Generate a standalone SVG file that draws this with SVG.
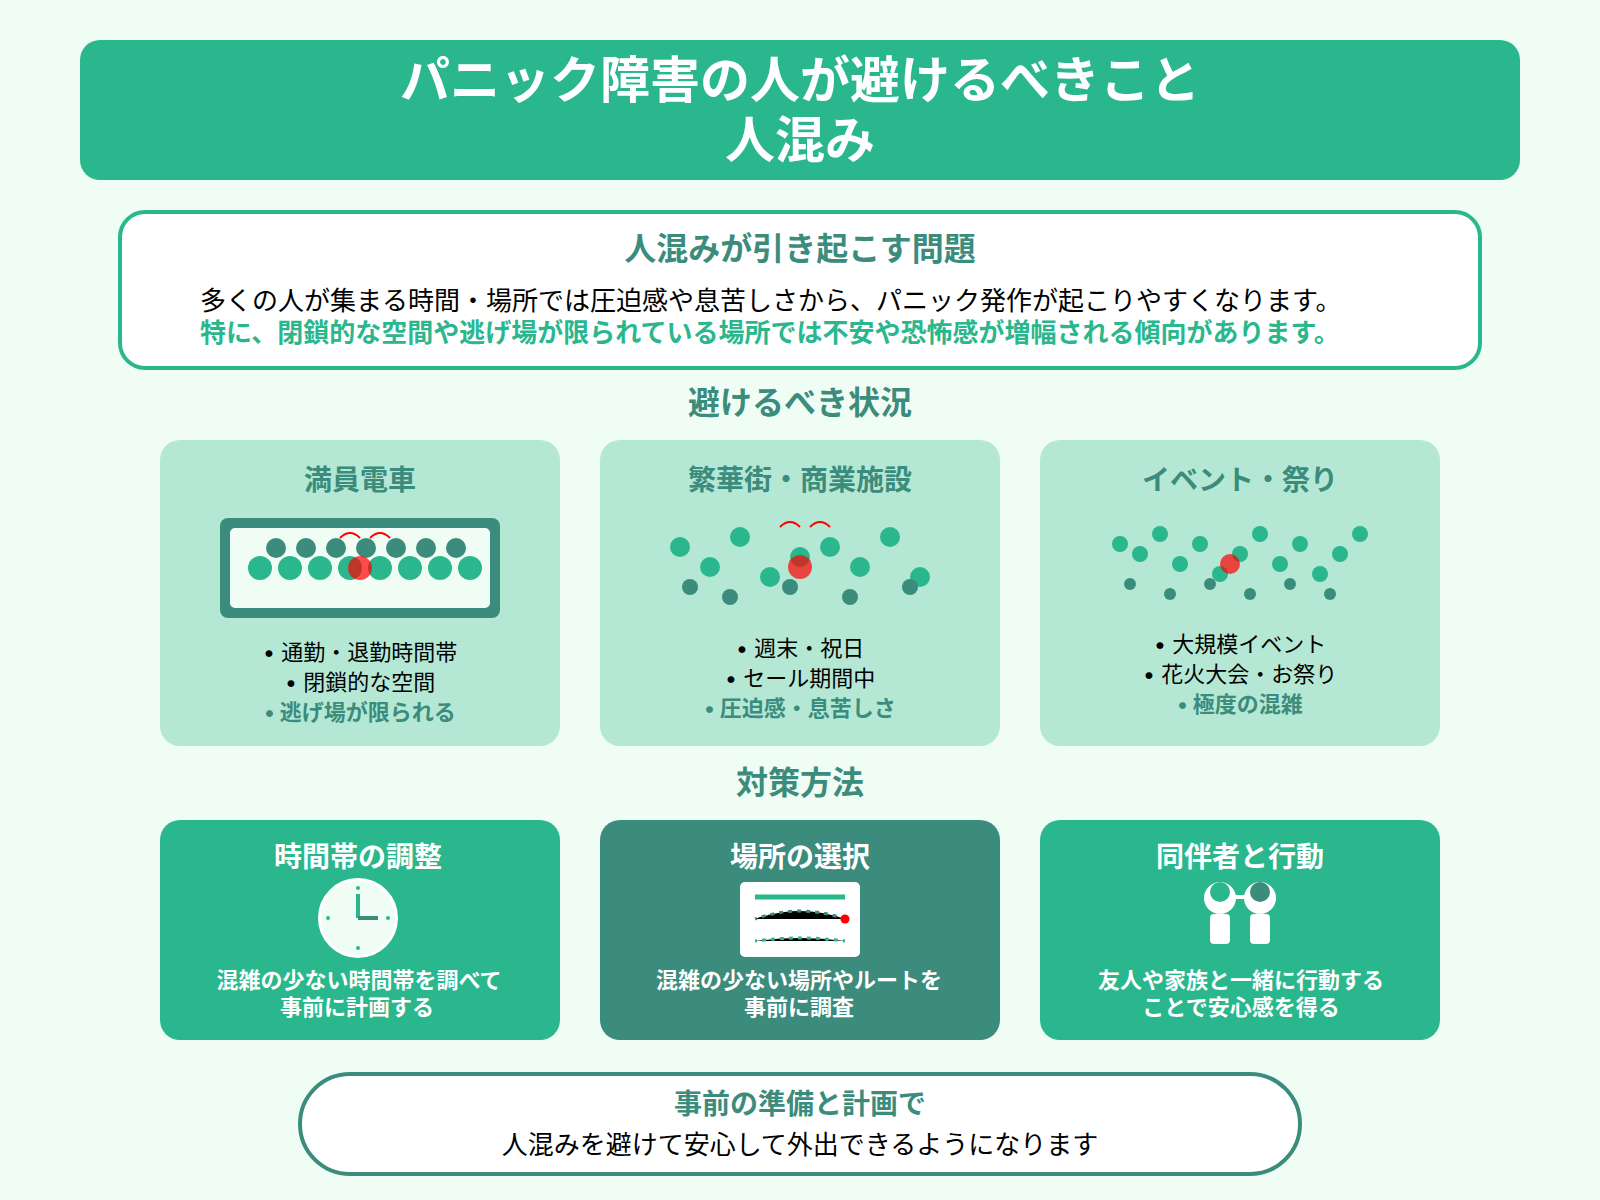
<svg xmlns="http://www.w3.org/2000/svg" width="1600" height="1200" viewBox="0 0 1600 1200">
<style>
text{font-family:Inter,"Noto Sans CJK JP","Noto Sans",sans-serif;text-anchor:middle}
.b{font-weight:700}
.t{font-size:50px;fill:#fff;font-weight:700}
.h{font-size:32px;fill:#3B8C7C;font-weight:700}
.ct{font-size:28px;fill:#3B8C7C;font-weight:700}
.li{font-size:22px;fill:#000}
.lb{font-size:22px;fill:#3B8C7C;font-weight:700}
.at{font-size:28px;fill:#fff;font-weight:700}
.ad{font-size:22px;fill:#fff;font-weight:700}
.body{font-size:26px;text-anchor:start}
.card{fill:#B4E8D5}
.g{fill:#2BB78D}
.d{fill:#3B8C7C}
.r{fill:#FF0000;opacity:.7}
.arc{fill:none;stroke:#FF0000;stroke-width:2}
</style>
<rect width="1600" height="1200" fill="#F0FDF4"/>
<g id="header">
<rect x="80" y="40" width="1440" height="140" rx="20" class="g"/>
<text x="800" y="98" class="t">パニック障害の人が避けるべきこと</text>
<text x="800" y="158" class="t">人混み</text>
</g>
<g id="problem">
<rect x="120" y="212" width="1360" height="156" rx="25" fill="#fff" stroke="#2BB78D" stroke-width="4"/>
<text x="800" y="260" class="h">人混みが引き起こす問題</text>
<text x="200" y="310" class="body" fill="#000">多くの人が集まる時間・場所では圧迫感や息苦しさから、パニック発作が起こりやすくなります。</text>
<text x="200" y="342" class="body b" fill="#2BB78D">特に、閉鎖的な空間や逃げ場が限られている場所では不安や恐怖感が増幅される傾向があります。</text>
</g>
<text id="avoid-heading" x="800" y="414" class="h">避けるべき状況</text>
<g id="card-train">
<rect x="160" y="440" width="400" height="306" rx="20" class="card"/>
<text x="360" y="490" class="ct">満員電車</text>
<rect x="220" y="518" width="280" height="100" rx="8" fill="#3B8C7C"/>
<rect x="230" y="528" width="260" height="80" rx="5" fill="#F0FDF4"/>
<g class="d"><circle cx="276" cy="548" r="10"/><circle cx="306" cy="548" r="10"/><circle cx="336" cy="548" r="10"/><circle cx="366" cy="548" r="10"/><circle cx="396" cy="548" r="10"/><circle cx="426" cy="548" r="10"/><circle cx="456" cy="548" r="10"/></g>
<g class="g"><circle cx="260" cy="568" r="12"/><circle cx="290" cy="568" r="12"/><circle cx="320" cy="568" r="12"/><circle cx="350" cy="568" r="12"/><circle cx="380" cy="568" r="12"/><circle cx="410" cy="568" r="12"/><circle cx="440" cy="568" r="12"/><circle cx="470" cy="568" r="12"/></g>
<circle cx="360" cy="568" r="12" class="r"/>
<path class="arc" d="M340 538Q350 528 360 538M370 538Q380 528 390 538"/>
<text x="360" y="660" class="li">• 通勤・退勤時間帯</text>
<text x="360" y="690" class="li">• 閉鎖的な空間</text>
<text x="360" y="720" class="lb">• 逃げ場が限られる</text>
</g>
<g id="card-town">
<rect x="600" y="440" width="400" height="306" rx="20" class="card"/>
<text x="800" y="490" class="ct">繁華街・商業施設</text>
<g class="g"><circle cx="680" cy="547" r="10"/><circle cx="710" cy="567" r="10"/><circle cx="740" cy="537" r="10"/><circle cx="770" cy="577" r="10"/><circle cx="800" cy="557" r="10"/><circle cx="830" cy="547" r="10"/><circle cx="860" cy="567" r="10"/><circle cx="890" cy="537" r="10"/><circle cx="920" cy="577" r="10"/></g>
<g class="d"><circle cx="690" cy="587" r="8"/><circle cx="730" cy="597" r="8"/><circle cx="790" cy="587" r="8"/><circle cx="850" cy="597" r="8"/><circle cx="910" cy="587" r="8"/></g>
<circle cx="800" cy="567" r="12" class="r"/>
<path class="arc" d="M780 527Q790 517 800 527M810 527Q820 517 830 527"/>
<text x="800" y="656" class="li">• 週末・祝日</text>
<text x="800" y="686" class="li">• セール期間中</text>
<text x="800" y="715.5" class="lb">• 圧迫感・息苦しさ</text>
</g>
<g id="card-event">
<rect x="1040" y="440" width="400" height="306" rx="20" class="card"/>
<text x="1240" y="490" class="ct">イベント・祭り</text>
<g class="g"><circle cx="1120" cy="544" r="8"/><circle cx="1140" cy="554" r="8"/><circle cx="1160" cy="534" r="8"/><circle cx="1180" cy="564" r="8"/><circle cx="1200" cy="544" r="8"/><circle cx="1220" cy="574" r="8"/><circle cx="1240" cy="554" r="8"/><circle cx="1260" cy="534" r="8"/><circle cx="1280" cy="564" r="8"/><circle cx="1300" cy="544" r="8"/><circle cx="1320" cy="574" r="8"/><circle cx="1340" cy="554" r="8"/><circle cx="1360" cy="534" r="8"/></g>
<g class="d"><circle cx="1130" cy="584" r="6"/><circle cx="1170" cy="594" r="6"/><circle cx="1210" cy="584" r="6"/><circle cx="1250" cy="594" r="6"/><circle cx="1290" cy="584" r="6"/><circle cx="1330" cy="594" r="6"/></g>
<circle cx="1230" cy="564" r="10" class="r"/>
<text x="1240" y="652" class="li">• 大規模イベント</text>
<text x="1240" y="682" class="li">• 花火大会・お祭り</text>
<text x="1240" y="712" class="lb">• 極度の混雑</text>
</g>
<text id="measures-heading" x="800" y="794" class="h">対策方法</text>
<g id="action-time">
<rect x="160" y="820" width="400" height="220" rx="20" class="g"/>
<text x="358" y="867" class="at">時間帯の調整</text>
<circle cx="358" cy="918" r="38.5" fill="#F0FDF4" stroke="#fff" stroke-width="3"/>
<g class="g"><circle cx="358" cy="888" r="2"/><circle cx="388" cy="918" r="2"/><circle cx="358" cy="948" r="2"/><circle cx="328" cy="918" r="2"/></g>
<path d="M358 918V894" stroke="#2BB78D" stroke-width="4" fill="none"/>
<path d="M358 918H378" stroke="#3B8C7C" stroke-width="4" fill="none"/>
<text x="359" y="988" class="ad">混雑の少ない時間帯を調べて</text>
<text x="357" y="1015" class="ad">事前に計画する</text>
</g>
<g id="action-place">
<rect x="600" y="820" width="400" height="220" rx="20" class="d"/>
<text x="800" y="866.5" class="at">場所の選択</text>
<rect x="740" y="882" width="120" height="75" rx="5" fill="#fff"/>
<path d="M755 897H845" stroke="#2BB78D" stroke-width="5" fill="none"/>
<path d="M755 919Q800 903 845 919" stroke="#3B8C7C" stroke-width="3" stroke-dasharray="4 5" stroke-dashoffset="2"/>
<path d="M755 941Q800 935 845 941" stroke="#2BB78D" stroke-width="3" stroke-dasharray="4 5" stroke-dashoffset="2"/>
<circle cx="845" cy="919" r="4.5" fill="#FF0000"/>
<text x="799" y="988" class="ad">混雑の少ない場所やルートを</text>
<text x="799" y="1015" class="ad">事前に調査</text>
</g>
<g id="action-company">
<rect x="1040" y="820" width="400" height="220" rx="20" class="g"/>
<text x="1240" y="866.5" class="at">同伴者と行動</text>
<path d="M1220 897H1260" stroke="#fff" stroke-width="4"/>
<circle cx="1220" cy="898" r="16" fill="#fff"/><circle cx="1260" cy="898" r="16" fill="#fff"/>
<circle cx="1220" cy="892" r="10" class="g"/><circle cx="1260" cy="892" r="10" class="d"/>
<rect x="1210" y="914" width="20" height="30" rx="4" fill="#fff"/><rect x="1250" y="914" width="20" height="30" rx="4" fill="#fff"/>
<text x="1241" y="988" class="ad">友人や家族と一緒に行動する</text>
<text x="1241" y="1015" class="ad">ことで安心感を得る</text>
</g>
<g id="footer">
<rect x="300" y="1074" width="1000" height="100" rx="50" fill="#fff" stroke="#3B8C7C" stroke-width="4"/>
<text x="800" y="1114" class="ct">事前の準備と計画で</text>
<text x="800" y="1154" font-size="26" fill="#000">人混みを避けて安心して外出できるようになります</text>
</g>
</svg>
